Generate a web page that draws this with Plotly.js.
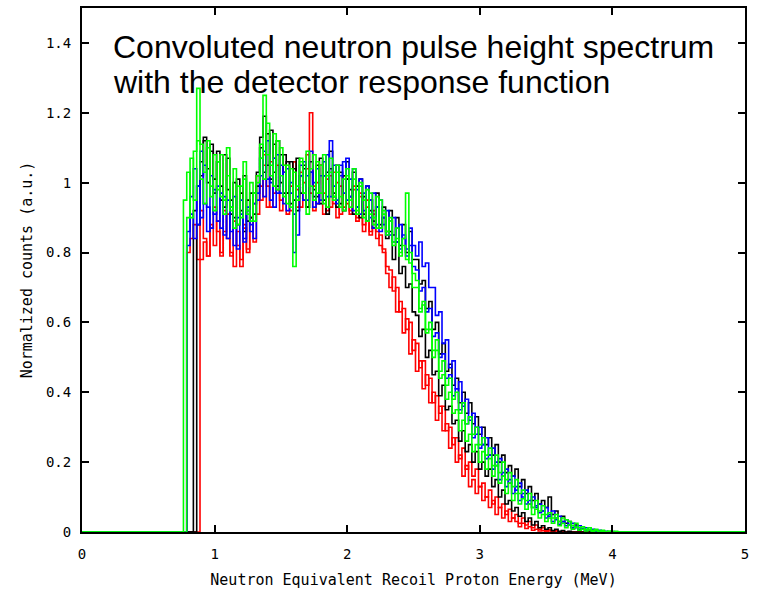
<!DOCTYPE html>
<html>
<head>
<meta charset="utf-8">
<script src="https://cdn.plot.ly/plotly-3.0.1.min.js"></script>
<style>html,body{margin:0;padding:0;background:#fff;}#chart{width:757px;height:591px;}</style>
</head>
<body>
<div id="chart"></div>
<script>
// Histogram bins: first bin low edge and bin width (MeV)
var binStart = 0.765;
var binWidth = 0.025;

// Normalized counts per bin (rows of 10 bins = 0.25 MeV)
var redA = [
 0,0.80,0.84,0.88,0.78,0.92,0.84,0.79,0.87,0.93,
 0.86,0.80,0.92,0.84,0.79,0.89,0.82,0.76,0.87,0.80,
 0.90,0.83,0.91,0.99,1.05,0.93,1.06,0.97,1.05,0.92,
 1.03,0.91,0.99,1.06,0.93,1.03,0.95,1.08,0.97,0.92,
 1.00,1.05,0.91,1.01,0.93,1.03,0.90,0.99,0.93,1.01,
 0.92,0.98,0.89,0.96,0.86,0.93,0.85,0.91,0.84,0.85,
 0.80,0.74,0.70,0.73,0.63,0.66,0.57,0.61,0.51,0.55,
 0.46,0.49,0.41,0.45,0.37,0.40,0.32,0.36,0.29,0.31,
 0.24,0.27,0.20,0.22,0.16,0.19,0.13,0.15,0.11,0.13,
 0.09,0.10,0.07,0.09,0.05,0.07,0.04,0.06,0.03,0.04,
 0.03,0.015,0.025,0.01,0.015,0.005,0.008,0.003,0.004,0.002,
 0.003,0.001,0,0,0,0,0,0,0,0,
 0,0,0,0,0,0,0,0,0,0,
 0,0,0,0,0,0,0,0,0,0
];
var redB = [
 0,0,0,0,0,0.78,0.83,0.79,0.88,0.82,
 0.89,0.79,0.86,0.91,0.80,0.76,0.86,0.78,0.88,0.81,
 0.90,0.94,1.02,0.95,1.08,0.99,0.93,1.07,0.98,0.95,
 1.05,0.97,0.92,1.06,0.98,0.93,1.00,1.04,1.20,0.99,
 0.94,1.05,0.97,0.92,1.02,0.94,1.00,0.91,1.02,0.94,
 0.91,0.99,0.90,0.97,0.88,0.95,0.86,0.92,0.86,0.82,
 0.81,0.76,0.75,0.69,0.70,0.63,0.64,0.58,0.60,0.52,
 0.54,0.47,0.49,0.42,0.44,0.37,0.39,0.34,0.36,0.29,
 0.30,0.25,0.27,0.21,0.24,0.18,0.20,0.16,0.18,0.13,
 0.14,0.10,0.12,0.08,0.10,0.07,0.08,0.05,0.065,0.04,
 0.05,0.025,0.04,0.02,0.03,0.012,0.02,0.008,0.012,0.004,
 0.006,0.002,0.004,0,0,0,0,0,0,0,
 0,0,0,0,0,0,0,0,0,0,
 0,0,0,0,0,0,0,0,0,0
];
var blackA = [
 0,0,0,0.92,0.99,1.06,1.12,1.00,1.09,0.97,
 1.06,0.95,1.08,0.98,0.91,1.00,0.88,0.97,0.86,0.95,
 0.90,0.97,0.99,1.10,1.03,1.14,1.01,1.11,0.99,1.08,
 0.97,1.06,0.94,1.04,0.92,1.02,1.05,0.93,1.03,0.96,
 1.05,0.94,1.02,0.91,1.04,0.96,0.93,1.03,0.92,1.01,
 0.98,0.91,0.99,0.90,0.96,0.89,0.95,0.87,0.93,0.87,
 0.90,0.84,0.86,0.78,0.83,0.74,0.76,0.70,0.71,0.63,
 0.62,0.56,0.58,0.50,0.52,0.45,0.46,0.39,0.42,0.35,
 0.36,0.31,0.32,0.26,0.29,0.23,0.25,0.20,0.23,0.18,
 0.20,0.16,0.18,0.13,0.15,0.10,0.12,0.08,0.09,0.06,
 0.07,0.045,0.055,0.03,0.04,0.02,0.03,0.012,0.018,0.008,
 0.012,0.004,0.008,0.002,0.004,0,0.002,0,0,0,
 0,0,0,0,0,0,0,0,0,0,
 0,0,0,0,0,0,0,0,0,0
];
var blackB = [
 0,0,0,0,0.88,1.02,1.13,1.04,1.11,1.01,
 1.09,0.99,0.93,1.07,0.95,0.90,1.01,0.92,1.02,0.89,
 0.97,0.91,1.03,1.13,1.19,1.05,1.15,1.03,1.12,1.00,
 1.08,0.97,1.06,0.95,1.07,0.97,1.04,0.93,1.06,0.98,
 0.96,1.07,0.95,1.03,1.09,0.97,1.05,0.94,1.02,1.06,
 0.96,1.03,0.93,1.01,0.91,0.99,0.92,0.89,0.97,0.88,
 0.93,0.86,0.92,0.85,0.90,0.82,0.88,0.80,0.86,0.78,
 0.78,0.71,0.72,0.64,0.66,0.58,0.60,0.51,0.54,0.46,
 0.48,0.42,0.44,0.37,0.40,0.34,0.37,0.31,0.33,0.28,
 0.30,0.25,0.27,0.22,0.25,0.20,0.22,0.17,0.19,0.16,
 0.18,0.13,0.15,0.11,0.13,0.09,0.11,0.08,0.09,0.07,
 0.10,0.05,0.06,0.03,0.045,0.025,0.03,0.012,0.02,0.006,
 0.01,0.004,0.006,0.002,0.003,0,0,0,0,0,
 0,0,0,0,0,0,0,0,0,0
];
var blueA = [
 0,0.86,0.96,1.04,0.88,1.09,0.94,0.86,1.02,0.91,
 0.99,0.87,0.96,0.84,0.93,0.82,0.90,0.95,0.83,0.92,
 0.86,0.94,0.97,1.07,0.96,1.12,1.00,0.93,1.08,0.97,
 1.03,0.92,1.00,0.80,0.96,1.05,0.95,1.02,1.09,1.00,
 0.94,1.02,1.06,0.96,1.12,0.99,0.95,1.05,0.97,1.07,
 0.96,1.04,0.93,1.01,0.92,0.99,0.90,0.97,0.88,0.95,
 0.88,0.92,0.85,0.90,0.83,0.88,0.84,0.81,0.87,0.82,
 0.79,0.83,0.76,0.77,0.70,0.70,0.62,0.63,0.54,0.55,
 0.47,0.49,0.41,0.43,0.36,0.38,0.32,0.34,0.28,0.30,
 0.25,0.27,0.22,0.24,0.19,0.21,0.16,0.18,0.14,0.16,
 0.12,0.14,0.10,0.12,0.08,0.10,0.07,0.08,0.06,0.07,
 0.045,0.06,0.035,0.045,0.025,0.035,0.02,0.025,0.012,0.018,
 0.008,0.012,0.005,0.008,0.003,0.005,0.001,0.002,0,0.001,
 0,0,0,0,0,0,0,0,0,0
];
var blueB = [
 0,0.82,0.91,0.84,0.99,0.90,1.05,0.93,0.87,0.98,
 0.89,0.97,0.85,0.95,0.86,0.96,0.81,0.91,0.84,0.93,
 0.88,0.84,0.95,1.02,1.09,1.01,0.95,1.07,0.97,1.05,
 0.94,1.04,0.97,0.91,0.85,1.02,1.06,0.95,1.03,0.93,
 1.04,0.95,1.02,1.08,0.96,1.05,0.94,1.02,1.06,0.95,
 1.01,0.92,0.98,0.91,0.97,0.89,0.95,0.87,0.93,0.86,
 0.90,0.85,0.89,0.83,0.87,0.81,0.85,0.79,0.82,0.76,
 0.75,0.69,0.70,0.63,0.64,0.56,0.57,0.50,0.51,0.44,
 0.45,0.39,0.41,0.35,0.37,0.31,0.33,0.27,0.30,0.24,
 0.25,0.21,0.22,0.18,0.20,0.15,0.17,0.13,0.15,0.11,
 0.13,0.09,0.11,0.08,0.09,0.07,0.075,0.055,0.06,0.04,
 0.05,0.03,0.04,0.022,0.03,0.018,0.022,0.012,0.016,0.008,
 0.01,0.005,0.007,0.003,0.004,0.001,0.002,0,0,0,
 0,0,0,0,0,0,0,0,0,0
];
var greenA = [
 0.95,1.03,0.90,1.09,1.27,1.11,1.03,1.12,0.96,1.08,
 0.98,1.08,0.95,1.10,0.92,1.04,0.88,0.99,1.06,0.91,
 1.00,0.89,1.02,1.07,1.25,1.08,1.02,1.14,0.98,1.10,
 1.05,0.94,1.04,0.76,0.99,1.07,0.97,1.09,0.99,0.95,
 1.06,0.97,1.08,0.93,1.03,0.95,1.05,0.96,0.92,1.02,
 0.95,1.04,0.92,1.00,0.90,0.98,0.91,0.88,0.96,0.87,
 0.92,0.86,0.90,0.82,0.87,0.79,0.84,0.97,0.77,0.70,
 0.70,0.63,0.65,0.57,0.58,0.50,0.52,0.44,0.45,0.38,
 0.40,0.34,0.35,0.29,0.32,0.26,0.28,0.23,0.25,0.20,
 0.23,0.18,0.21,0.16,0.19,0.14,0.16,0.11,0.14,0.09,
 0.11,0.08,0.095,0.065,0.08,0.05,0.065,0.04,0.05,0.03,
 0.04,0.025,0.04,0.018,0.025,0.012,0.02,0.008,0.014,0.005,
 0.008,0.003,0.006,0.001,0.004,0,0.002,0,0,0,
 0,0,0,0,0,0,0,0,0,0
];
var greenB = [
 0,0.90,1.07,0.95,1.12,1.01,0.94,1.10,0.99,0.92,
 1.06,0.96,0.91,1.02,0.93,0.87,0.99,0.90,1.01,0.92,
 0.89,0.97,1.00,1.11,1.01,1.17,1.05,0.99,1.12,1.02,
 0.96,1.05,0.93,1.03,0.95,1.06,0.97,0.91,1.04,1.08,
 0.97,1.05,0.94,1.02,1.07,0.96,1.03,0.93,1.01,1.04,
 0.93,1.01,0.91,0.99,0.95,0.89,0.97,0.90,0.87,0.95,
 0.91,0.85,0.89,0.83,0.84,0.80,0.82,0.78,0.80,0.74,
 0.72,0.64,0.66,0.58,0.60,0.52,0.55,0.46,0.49,0.42,
 0.44,0.38,0.40,0.34,0.37,0.31,0.33,0.28,0.30,0.25,
 0.27,0.22,0.24,0.19,0.22,0.17,0.20,0.15,0.17,0.13,
 0.15,0.11,0.12,0.09,0.11,0.07,0.09,0.06,0.075,0.05,
 0.055,0.04,0.05,0.03,0.04,0.035,0.03,0.018,0.025,0.012,
 0.015,0.008,0.012,0.005,0.008,0.003,0.005,0.001,0.003,0.001,
 0.002,0,0,0,0,0,0,0,0,0
];

var xRange = [0, 5];
var yRange = [0, 1.5];
var xTicks = [0, 1, 2, 3, 4, 5];
var yTicks = [0, 0.2, 0.4, 0.6, 0.8, 1, 1.2, 1.4];
var yTickText = ["0", "0.2", "0.4", "0.6", "0.8", "1", "1.2", "1.4"];
var titleLine1 = "Convoluted neutron pulse height spectrum";
var titleLine2 = "with the detector response function";
var xTitle = "Neutron Equivalent Recoil Proton Energy (MeV)";
var yTitle = "Normalized counts (a.u.)";

function makeTrace(vals, color) {
  var xs = [xRange[0]], ys = [0];
  for (var i = 0; i < vals.length; i++) {
    xs.push(binStart + i * binWidth);
    ys.push(vals[i]);
  }
  xs.push(xRange[1]); ys.push(0);
  return {x: xs, y: ys, type: 'scatter', mode: 'lines',
          line: {shape: 'hv', color: color, width: 1.6}, hoverinfo: 'skip'};
}

var data = [
  makeTrace(redA, '#ff0000'), makeTrace(redB, '#ff0000'),
  makeTrace(blackA, '#000000'), makeTrace(blackB, '#000000'),
  makeTrace(blueA, '#0000ff'), makeTrace(blueB, '#0000ff'),
  makeTrace(greenA, '#00ff00'), makeTrace(greenB, '#00ff00')
];

var mono = "DejaVu Sans Mono, monospace";
var layout = {
  width: 757, height: 591,
  margin: {l: 82, r: 12, t: 8, b: 59},
  paper_bgcolor: '#fff', plot_bgcolor: '#fff',
  showlegend: false,
  xaxis: {
    range: xRange, tickvals: xTicks, ticks: 'inside', ticklen: 7, tickwidth: 2,
    showline: true, linewidth: 2, linecolor: '#000', mirror: 'ticks',
    showgrid: false, zeroline: false, tickcolor: '#000',
    tickfont: {family: mono, size: 14, color: '#000'},
    ticklabelstandoff: 8,
    title: {text: xTitle, font: {family: mono, size: 15, color: '#000'}, standoff: 14}
  },
  yaxis: {
    range: yRange, tickvals: yTicks, ticktext: yTickText, ticks: 'inside', ticklen: 7, tickwidth: 2,
    showline: true, linewidth: 2, linecolor: '#000', mirror: 'ticks',
    showgrid: false, zeroline: false, tickcolor: '#000',
    tickfont: {family: mono, size: 14, color: '#000'},
    ticklabelstandoff: 6,
    title: {text: yTitle, font: {family: mono, size: 15, color: '#000'}, standoff: 10}
  },
  annotations: [
    {text: titleLine1, xref: 'paper', yref: 'paper', x: 0.044, y: 0.925,
     xanchor: 'left', yanchor: 'middle', showarrow: false,
     font: {family: 'Liberation Sans, Arial, sans-serif', size: 32, color: '#000'}},
    {text: titleLine2, xref: 'paper', yref: 'paper', x: 0.044, y: 0.858,
     xanchor: 'left', yanchor: 'middle', showarrow: false,
     font: {family: 'Liberation Sans, Arial, sans-serif', size: 32, color: '#000'}}
  ]
};

Plotly.newPlot('chart', data, layout, {staticPlot: true, displayModeBar: false});
</script>
</body>
</html>
